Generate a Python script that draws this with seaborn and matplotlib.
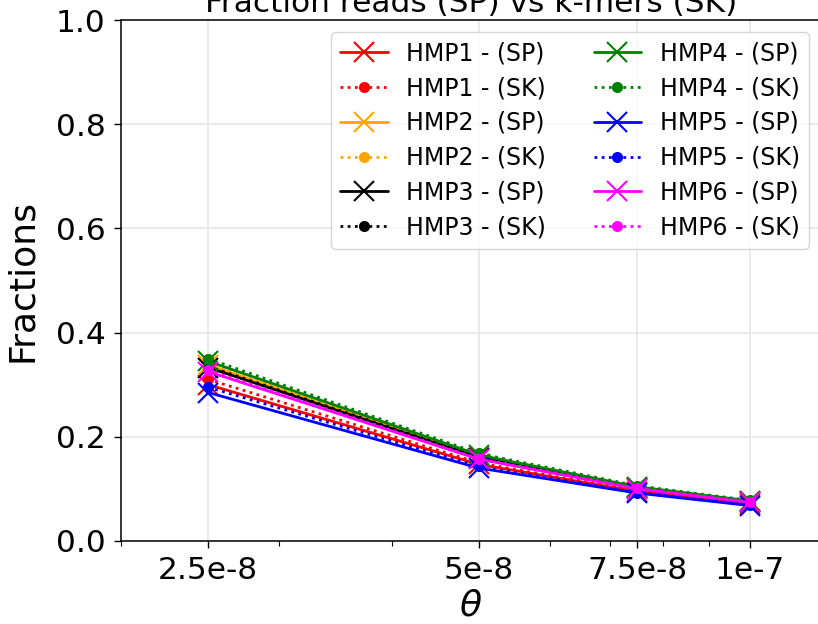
import numpy as np
import pandas as pd
import matplotlib
matplotlib.use("Agg")
import matplotlib.pyplot as plt
import matplotlib.ticker as mticker
import seaborn as sns

# theta values on the x axis
theta = [2.5e-8, 5e-8, 7.5e-8, 1e-7]
theta_labels = ["2.5e-8", "5e-8", "7.5e-8", "1e-7"]

samples = ["HMP1", "HMP2", "HMP3", "HMP4", "HMP5", "HMP6"]
colors = ["red", "orange", "black", "green", "blue", "magenta"]

# fraction of reads (SP)
hmp1_sp = [0.300, 0.147, 0.095, 0.071]
hmp2_sp = [0.338, 0.162, 0.102, 0.076]
hmp3_sp = [0.333, 0.160, 0.101, 0.075]
hmp4_sp = [0.345, 0.165, 0.104, 0.077]
hmp5_sp = [0.285, 0.140, 0.092, 0.068]
hmp6_sp = [0.325, 0.157, 0.100, 0.074]

# fraction of k-mers (SK)
hmp1_sk = [0.310, 0.150, 0.096, 0.072]
hmp2_sk = [0.340, 0.163, 0.103, 0.077]
hmp3_sk = [0.335, 0.161, 0.102, 0.076]
hmp4_sk = [0.350, 0.168, 0.106, 0.078]
hmp5_sk = [0.295, 0.143, 0.093, 0.069]
hmp6_sk = [0.328, 0.158, 0.101, 0.075]

sp = [hmp1_sp, hmp2_sp, hmp3_sp, hmp4_sp, hmp5_sp, hmp6_sp]
sk = [hmp1_sk, hmp2_sk, hmp3_sk, hmp4_sk, hmp5_sk, hmp6_sk]

rows = []
for name, a, b in zip(samples, sp, sk):
    for t, v in zip(theta, a):
        rows.append({"theta": t, "value": v, "sample": name, "kind": "SP"})
    for t, v in zip(theta, b):
        rows.append({"theta": t, "value": v, "sample": name, "kind": "SK"})
df = pd.DataFrame(rows)

sns.set_style("white", {"text.color": "black", "axes.labelcolor": "black",
                        "xtick.color": "black", "ytick.color": "black",
                        "axes.edgecolor": "black"})
plt.rcParams["font.family"] = ["DejaVu Sans"]

fig = plt.figure(figsize=(8.18, 6.24), dpi=100)
ax = fig.add_axes([121 / 818, 83 / 624, 700 / 818, 521 / 624])

for name, col in zip(samples, colors):
    d = df[(df["sample"] == name) & (df["kind"] == "SP")]
    sns.lineplot(data=d, x="theta", y="value", ax=ax, color=col, linestyle="-",
                 linewidth=2, marker="x", markersize=15, markeredgewidth=1.5,
                 markeredgecolor=col, label=name + " - (SP)")
    d = df[(df["sample"] == name) & (df["kind"] == "SK")]
    sns.lineplot(data=d, x="theta", y="value", ax=ax, color=col,
                 linestyle=(0, (1, 1.6)), linewidth=2, marker="o", markersize=8,
                 markeredgewidth=0, markeredgecolor=col, label=name + " - (SK)")

ax.set_xscale("log")
ax.set_xlim(2e-8, 1.2e-7)
ax.set_ylim(0, 1.0)
ax.xaxis.set_major_locator(mticker.FixedLocator(theta))
ax.xaxis.set_major_formatter(mticker.FixedFormatter(theta_labels))
ax.xaxis.set_minor_locator(mticker.LogLocator(subs=np.arange(2, 10)))
ax.xaxis.set_minor_formatter(mticker.NullFormatter())
ax.set_yticks([0, 0.2, 0.4, 0.6, 0.8, 1.0])

ax.grid(True, which="major", color="#e6e6e6", linewidth=1.2)
ax.set_axisbelow(True)
for s in ax.spines.values():
    s.set_color("black")
    s.set_linewidth(1.1)
ax.tick_params(axis="both", which="major", direction="out", length=5, width=1,
               color="black", labelcolor="black", labelsize=22.5, pad=6,
               bottom=True, left=True)
ax.tick_params(axis="x", which="minor", direction="out", length=3.5, width=0.8,
               color="black", bottom=True)

ax.set_xlabel(r"$\theta$", fontsize=26, labelpad=2, color="black")
ax.set_ylabel("Fractions", fontsize=26, labelpad=12, color="black")
ax.set_title("Fraction reads (SP) vs k-mers (SK)", fontsize=22.5, color="black")

ax.legend(loc="upper right", ncol=2, fontsize=17, labelspacing=0.46,
          frameon=True, edgecolor="#cccccc", framealpha=0.8)

fig.savefig("out.png", dpi=100)
